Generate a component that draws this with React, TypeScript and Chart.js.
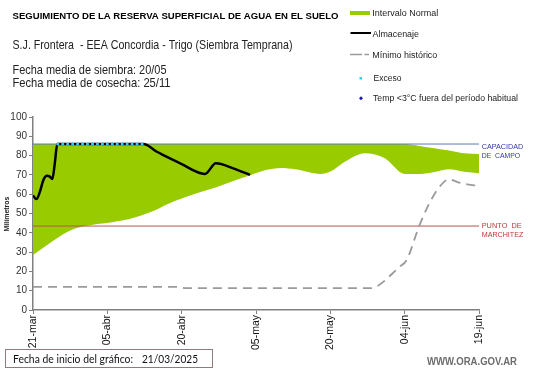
import React, { useEffect, useRef } from "react";
import { Chart, registerables } from "chart.js";
Chart.register(...registerables);

// ---- data ----
const xTickLabels = ["21-mar", "05-abr", "20-abr", "05-may", "20-may", "04-jun", "19-jun"];
const tickDays = [0, 15, 30, 45, 60, 75, 90];

const bandDays = [0, 3, 7, 10, 13, 16, 20, 24, 27, 30, 34, 37, 40, 44, 47, 50, 53, 58, 60, 63, 67, 71, 75, 78, 81, 84, 87, 90];
const bandLower = [28.5, 34, 40.6, 43.2, 44.6, 45.5, 47.5, 51, 54.7, 57.8, 61.3, 63.6, 66.5, 70, 72.5, 73.6, 72.9, 70.5, 71.7, 76.9, 81.2, 78.6, 70.5, 70.5, 71.5, 72.9, 71.6, 70.8];
const bandUpper = [86, 86, 86, 86, 86, 86, 86, 86, 86, 86, 86, 86, 86, 86, 86, 86, 86, 86, 86, 86, 86, 86, 86, 85, 83.8, 82.6, 81.2, 80.8];

const storageDays = [0, 0.7, 1.4, 2.1, 2.8, 3.4, 3.9, 4.4, 4.9, 22.3, 25, 26.3, 29.7, 34.7, 36.9, 40.4, 43.8];
const storageValues = [59.3, 57.5, 61.3, 67.4, 69.6, 69.1, 67.9, 76, 86, 86, 82, 80.3, 76, 70.5, 76, 73.4, 70];

const excessDays = [5, 6, 7, 8, 9, 10, 11, 12, 13, 14, 15, 16, 17, 18, 19, 20, 21, 22];
const excessValues = [86, 86, 86, 86, 86, 86, 86, 86, 86, 86, 86, 86, 86, 86, 86, 86, 86, 86];

const minDays = [0, 29, 31, 68, 74, 75.4, 78, 80.7, 83, 84, 86, 90];
const minValues = [12, 12, 11.3, 11.3, 22.4, 25.9, 44, 58.7, 66.5, 67.7, 66, 64.2];

const fieldCapacity = 86;
const wiltingPoint = 43.5;
const rangeDays = [0, 90];

const pts = (xs: number[], ys: number[]) => xs.map((x, i) => ({ x, y: ys[i] }));

function drawFit(ctx: CanvasRenderingContext2D, text: string, x: number, y: number, font: string, color: string, width?: number) {
  ctx.save();
  ctx.font = font;
  ctx.fillStyle = color;
  ctx.textAlign = "left";
  ctx.textBaseline = "alphabetic";
  ctx.translate(x, y);
  if (width) {
    const w = ctx.measureText(text).width;
    ctx.scale(width / w, 1);
  }
  ctx.fillText(text, 0, 0);
  ctx.restore();
}

const textPlugin = {
  id: "texts",
  afterDraw(chart: any) {
    const ctx: CanvasRenderingContext2D = chart.ctx;
    const F = "'Liberation Sans', Arial, sans-serif";
    drawFit(ctx, "SEGUIMIENTO DE LA RESERVA SUPERFICIAL DE AGUA EN EL SUELO", 12.5, 19, `bold 9px ${F}`, "#000", 326);
    drawFit(ctx, "S.J. Frontera  - EEA Concordia - Trigo (Siembra Temprana)", 12.5, 49, `13px ${F}`, "#222", 280);
    drawFit(ctx, "Fecha media de siembra: 20/05", 12.5, 74, `13px ${F}`, "#222", 154);
    drawFit(ctx, "Fecha media de cosecha: 25/11", 12.5, 86.7, `13px ${F}`, "#222", 158);

    // legend
    ctx.save();
    ctx.fillStyle = "#99cc00";
    ctx.fillRect(350, 11, 20, 4);
    ctx.strokeStyle = "#000";
    ctx.lineWidth = 2;
    ctx.beginPath();
    ctx.moveTo(350.5, 33);
    ctx.lineTo(371, 33);
    ctx.stroke();
    ctx.strokeStyle = "#9a9a9a";
    ctx.lineWidth = 1.3;
    ctx.beginPath();
    ctx.moveTo(350, 54.5);
    ctx.lineTo(362, 54.5);
    ctx.moveTo(364.5, 54.5);
    ctx.lineTo(369, 54.5);
    ctx.stroke();
    ctx.fillStyle = "#33ccee";
    ctx.fillRect(359.5, 77, 2.5, 2.5);
    ctx.fillStyle = "#1a1aa0";
    ctx.beginPath();
    ctx.moveTo(361, 96.3);
    ctx.lineTo(363, 98.3);
    ctx.lineTo(361, 100.3);
    ctx.lineTo(359, 98.3);
    ctx.closePath();
    ctx.fill();
    ctx.restore();
    const LF = `8.5px ${F}`;
    drawFit(ctx, "Intervalo Normal", 372.3, 15.5, LF, "#222", 66);
    drawFit(ctx, "Almacenaje", 372.5, 36.5, LF, "#222", 46.5);
    drawFit(ctx, "Mínimo histórico", 372.3, 58, LF, "#222", 65);
    drawFit(ctx, "Exceso", 373.5, 80.5, LF, "#222", 28);
    drawFit(ctx, "Temp <3°C fuera del período habitual", 373, 101, LF, "#222", 145);

    // right labels
    const RF = `8px ${F}`;
    drawFit(ctx, "CAPACIDAD", 481.7, 149, RF, "#3535a8", 41.6);
    drawFit(ctx, "DE  CAMPO", 481.7, 157.8, RF, "#3535a8", 38.3);
    drawFit(ctx, "PUNTO  DE", 481.7, 228.3, RF, "#c03838", 40);
    drawFit(ctx, "MARCHITEZ", 481.7, 237.3, RF, "#c03838", 41.6);

    // y axis title
    ctx.save();
    ctx.translate(8.5, 214);
    ctx.rotate(-Math.PI / 2);
    ctx.font = `bold 7.5px ${F}`;
    ctx.fillStyle = "#222";
    ctx.textAlign = "center";
    const tw = ctx.measureText("Milímetros").width;
    ctx.scale(35 / tw, 1);
    ctx.fillText("Milímetros", 0, 0);
    ctx.restore();

    // bottom box
    ctx.save();
    ctx.strokeStyle = "#8c7c7c";
    ctx.lineWidth = 1;
    ctx.strokeRect(5.5, 349.5, 207, 18);
    ctx.restore();
    drawFit(ctx, "Fecha de inicio del gráfico:", 13, 362.5, `12px Lato, 'Open Sans', sans-serif`, "#111", 120);
    drawFit(ctx, "21/03/2025", 142, 362.5, `12px Lato, 'Open Sans', sans-serif`, "#111", 56);
    drawFit(ctx, "WWW.ORA.GOV.AR", 427, 365, `bold 10px ${F}`, "#6d6d6d", 90);
  },
};

export default function App() {
  const ref = useRef<HTMLCanvasElement | null>(null);
  useEffect(() => {
    if (!ref.current) return;
    const chart = new Chart(ref.current, {
      type: "line",
      data: {
        datasets: [
          {
            label: "Exceso",
            data: pts(excessDays, excessValues),
            showLine: false,
            pointRadius: 1.6,
            pointBackgroundColor: "#33ccee",
            pointBorderWidth: 0,
            borderColor: "#33ccee",
          },
          {
            label: "Almacenaje",
            data: pts(storageDays, storageValues),
            borderColor: "#000",
            borderWidth: 2.5,
            pointRadius: 0,
            cubicInterpolationMode: "monotone",
          },
          {
            label: "Mínimo histórico",
            data: pts(minDays, minValues),
            borderColor: "#9a9a9a",
            borderWidth: 1.8,
            borderDash: [9, 6],
            pointRadius: 0,
            cubicInterpolationMode: "monotone",
          },
          {
            label: "Capacidad de campo",
            data: pts(rangeDays, [fieldCapacity, fieldCapacity]),
            borderColor: "#5a78b8",
            borderWidth: 1,
            pointRadius: 0,
          },
          {
            label: "Punto de marchitez",
            data: pts(rangeDays, [wiltingPoint, wiltingPoint]),
            borderColor: "#c0504d",
            borderWidth: 1,
            pointRadius: 0,
          },
          {
            label: "Intervalo Normal",
            data: pts(bandDays, bandUpper),
            borderWidth: 0,
            borderColor: "#99cc00",
            backgroundColor: "#99cc00",
            pointRadius: 0,
            fill: "+1",
            cubicInterpolationMode: "monotone",
          },
          {
            label: "lower",
            data: pts(bandDays, bandLower),
            borderWidth: 0,
            borderColor: "#99cc00",
            pointRadius: 0,
            fill: false,
            cubicInterpolationMode: "monotone",
          },
        ],
      },
      options: {
        animation: false,
        responsive: false,
        layout: { padding: { left: 0, right: 62, top: 117, bottom: 0 } },
        plugins: { legend: { display: false }, tooltip: { enabled: false }, title: { display: false } },
        scales: {
          x: {
            type: "linear",
            min: 0,
            max: 90,
            afterBuildTicks: (scale: any) => {
              scale.ticks = tickDays.map((v) => ({ value: v }));
            },
            afterFit: (scale: any) => {
              scale.height = 58;
            },
            ticks: {
              callback: (v: any) => {
                const i = tickDays.indexOf(Number(v));
                return i >= 0 ? xTickLabels[i] : "";
              },
              maxRotation: 90,
              minRotation: 90,
              autoSkip: false,
              padding: 1,
              color: "#111",
              font: { family: "'Liberation Sans', Arial, sans-serif", size: 10.5 },
            },
            grid: { drawOnChartArea: false, tickLength: 4, color: "#808080" },
            border: { color: "#808080", width: 1.5 },
          },
          y: {
            min: 0,
            max: 100,
            afterFit: (scale: any) => {
              scale.width = 33;
            },
            ticks: {
              stepSize: 10,
              padding: 2,
              color: "#333",
              font: { family: "'Liberation Sans', Arial, sans-serif", size: 10 },
            },
            grid: { drawOnChartArea: false, tickLength: 4, color: "#808080" },
            border: { color: "#808080", width: 1.5 },
          },
        },
      },
      plugins: [textPlugin],
    } as any);
    return () => chart.destroy();
  }, []);
  return (
    <div style={{ position: "fixed", left: 0, top: 0, width: 541, height: 368, background: "#fff" }}>
      <canvas ref={ref} width={541} height={368} style={{ display: "block", width: 541, height: 368 }} />
    </div>
  );
}
